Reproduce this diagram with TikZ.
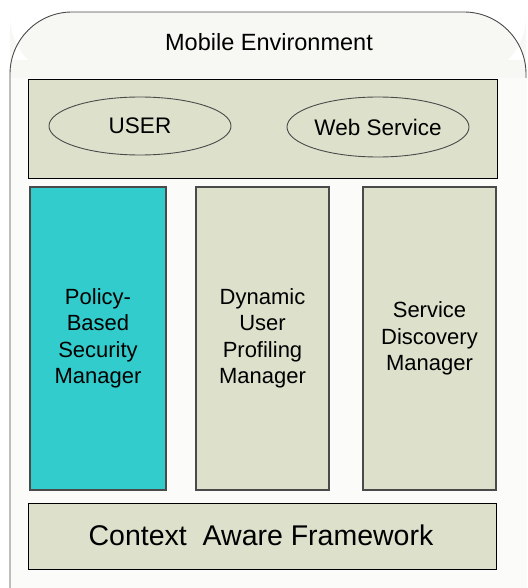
\documentclass[tikz,border=0pt]{standalone}
\usepackage{fontspec}
\setmainfont{Liberation Sans}
\usetikzlibrary{shapes.geometric}
\definecolor{panel}{HTML}{DDE0CB}
\definecolor{teal}{HTML}{33CCCC}
\definecolor{headbg}{HTML}{F7F8F3}
\definecolor{pagebg}{HTML}{FBFBF9}
\definecolor{rim}{HTML}{4A4A4A}
\tikzset{
  x=1pt, y=-1pt,
  layerbox/.style={draw=black, line width=1pt, fill=panel},
  column/.style={draw=rim, line width=1.3pt, fill=panel, align=center,
                 font=\fontsize{22}{26.5}\selectfont},
  actor/.style={ellipse, draw=rim, line width=0.9pt, fill=panel,
                font=\fontsize{22.5}{26}\selectfont, inner sep=0pt},
}
\begin{document}
\begin{tikzpicture}
\useasboundingbox (0,0) rectangle (527,588);
\fill[white] (0,0) rectangle (527,588);
% page body below the header
\fill[pagebg] (10,78) rectangle (527,588);
% rounded header of the mobile environment
\fill[headbg, rounded corners=62] (10,78) -- (10,12) -- (526,12) -- (526,78) -- cycle;
\fill[headbg] (10,60) rectangle (526,78);
\draw[rim, line width=0.9pt, rounded corners=62] (10,588) -- (10,12) -- (526,12) -- (526,78);
\node[font=\fontsize{23.5}{27}\selectfont] (env) at (269,42) {Mobile Environment};

% top layer with the two actors
\path[layerbox] (28,80) rectangle (497,178);
\node[actor, minimum width=182, minimum height=58] (user) at (140,126) {USER};
\node[actor, minimum width=182, minimum height=60] (ws) at (378,127) {Web Service};

% three managers
\node[column, fill=teal, minimum width=136, minimum height=303] (policy) at (98,338.5)
  {Policy-\\Based\\Security\\Manager};
\node[column, minimum width=133, minimum height=303] (profile) at (262.5,338.5)
  {Dynamic\\User\\Profiling\\Manager};
\node[column, minimum width=133, minimum height=303] (discovery) at (429.5,338.5)
  {Service\\Discovery\\Manager};

% bottom layer
\path[layerbox] (28,503) rectangle (496,569);
\node[font=\fontsize{28.5}{32}\selectfont] (caf) at (261,535) {Context\ \ Aware Framework};
\end{tikzpicture}
\end{document}
